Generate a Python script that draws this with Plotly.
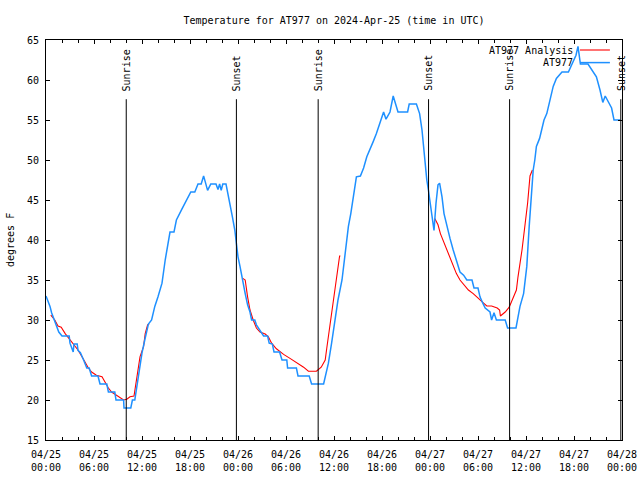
import pandas as pd
import plotly.graph_objects as go

START = pd.Timestamp("2024-04-25 00:00")

# Observed AT977 temperatures (hours since 04/25 00:00 UTC, deg F)
obs_hours = [0.0, 0.5, 0.7, 0.9, 1.3, 1.6, 2.0, 2.9, 3.0, 3.2, 3.4, 3.5, 3.9, 4.0, 4.3, 4.7, 5.1, 5.4,
             5.7, 6.5, 6.75, 7.6, 7.8, 8.6, 8.75, 9.7, 9.75, 10.6, 10.8, 11.1, 11.3, 11.75, 12.0, 12.4,
             12.8, 13.2, 13.6, 14.0, 14.5, 14.9, 15.3, 15.5, 16.0, 16.3, 17.0, 17.6, 18.1, 18.6, 19.0,
             19.4, 19.7, 19.9, 20.2, 20.6, 21.25, 21.5, 21.7, 21.9, 22.1, 22.5, 22.8, 23.0, 23.3, 23.6,
             23.8, 24.0, 24.25, 24.5, 24.7, 24.9, 25.2, 25.5, 25.7, 26.1, 26.3, 26.75, 27.2, 27.7, 27.9,
             28.3, 28.5, 29.2, 29.5, 30.1, 30.2, 31.3, 31.5, 32.9, 33.2, 34.7, 34.9, 35.3, 35.7, 36.1,
             36.5, 37.0, 37.4, 37.8, 38.1, 38.4, 38.8, 39.3, 39.7, 40.1, 40.5, 40.9, 41.3, 41.75, 42.2,
             42.5, 43.0, 43.4, 43.7, 44.0, 45.2, 45.4, 46.3, 46.7, 47.0, 47.2, 47.4, 47.6, 47.8, 48.0,
             48.3, 48.5, 48.75, 49.0, 49.2, 49.5, 49.75, 50.1, 50.5, 50.9, 51.3, 51.75, 52.2, 52.6,
             53.25, 53.5, 54.0, 54.25, 54.6, 54.9, 55.5, 55.7, 56.0, 56.3, 57.4, 57.7, 58.75, 59.0,
             59.25, 59.7, 60.1, 60.4, 60.7, 60.9, 61.1, 61.3, 61.7, 62.0, 62.25, 62.6, 63.0, 63.4,
             63.8, 64.5, 65.3, 65.8, 66.25, 66.5, 66.8, 67.75, 68.4, 68.8, 69.25, 69.6, 69.9, 70.3,
             70.7, 71.0, 71.8]
obs_temps = [33, 31.7, 30.9, 30.4, 29.2, 28.5, 28, 28, 27.1, 26.6, 26, 27, 27, 26.2, 25.9, 25, 24, 24,
             23, 23, 22, 22, 21, 21, 20, 20, 19, 19, 20, 20, 21.25, 23.75, 25.9, 27.75,
             29.5, 30, 31.7, 32.9, 34.6, 37.5, 40, 41, 41, 42.5, 43.9, 45, 46, 46, 47,
             47, 48, 47.3, 46.2, 47, 47, 46.3, 47, 46.2, 47, 47, 45.6, 44.6, 42.9, 41.25,
             39.6, 37.9, 36.7, 35.2, 34.4, 33.3, 31.9, 31.0, 30, 30, 29.4, 28.7, 28, 28, 27.1,
             27, 26, 26, 25, 25, 24, 24, 23, 23, 22, 22, 23, 24.6, 27.1, 29.6,
             32.5, 35, 38.75, 41.7, 43.3, 45.4, 47.9, 48, 49, 50.4, 51.25, 52.3, 53.3, 54.8, 56,
             55.1, 56, 58, 57, 56, 56, 57, 57, 55.8, 53.75, 51.7, 49.2, 47.5, 46.25, 44.6,
             42.5, 41.2, 44.6, 46.9, 47.1, 45.4, 43.3, 41.7, 40.2, 38.75, 37.3, 36, 35.6, 35,
             35, 34, 34, 32.9, 32.1, 31.5, 31, 30, 30.9, 30, 30, 29, 29, 30.4,
             31.7, 33.3, 36.7, 41.7, 45.8, 48.75, 50, 51.7, 52.7, 54, 55, 55.8, 57.5, 59.2,
             60.2, 61, 61, 62.2, 63.1, 64.2, 62, 62, 61, 60.4, 58.75, 57.2, 58, 57.3,
             56.5, 55, 55]

# Analysis segments
ana1_hours = [0.6, 1.1, 1.5, 1.9, 2.4, 2.8, 3.2, 3.6, 4.0, 4.5, 4.9, 5.3, 5.7, 6.3, 7.0, 7.4, 7.8, 8.2,
              8.8, 9.25, 9.7, 10.1, 10.5, 11.0, 11.25, 11.5, 11.75, 12.2, 12.4, 12.7, 12.9]
ana1_temps = [30.6, 30, 29.25, 29.1, 28.3, 27.8, 27.2, 26.7, 26.25, 25.4, 24.7, 24.0, 23.5, 23.1, 22.9,
              22.1, 21.5, 21.0, 20.6, 20.3, 20, 20.1, 20.4, 20.5, 22.1, 23.75, 25.4, 26.7, 28.3, 29.4, 29.5]
ana2_hours = [24.6, 24.9, 25.2, 25.5, 25.9, 26.3, 26.75, 27.4, 27.8, 28.2, 28.8, 29.7, 30.5, 31.3, 32.2,
              32.8, 33.8, 34.4, 34.9, 35.1, 35.4, 35.7, 36.0, 36.3, 36.7, 36.8]
ana2_temps = [35.2, 35, 32.9, 31.25, 30, 29, 28.5, 28.25, 27.9, 27.1, 26.4, 25.7, 25.2, 24.7, 24.1,
              23.6, 23.6, 24.1, 25, 26.5, 28.75, 30.8, 32.9, 35.4, 38, 38]
ana3_hours = [48.6, 49.0, 49.3, 49.7, 50.1, 50.5, 50.9, 51.3, 51.75, 52.2, 52.8, 53.4, 54.0, 54.7, 55.1,
              55.7, 56.4, 56.7, 56.8, 57.4, 57.9, 58.4, 58.8, 59.0, 59.5, 59.9, 60.2, 60.5, 60.8]
ana3_temps = [42.7, 41.9, 40.8, 39.8, 39, 37.9, 36.9, 35.8, 35, 34.4, 33.75, 33.3, 32.7, 32.1, 31.75,
              31.75, 31.5, 31.25, 30.5, 31, 31.6, 32.7, 33.75, 35.4, 38.75, 42.1, 44.6, 48, 48.75]

sun_events = ["Sunrise", "Sunset", "Sunrise", "Sunset", "Sunrise", "Sunset"]
sun_hours = [10.03, 23.8, 34.02, 47.82, 57.95, 71.85]

FONT = "DejaVu Sans Mono"
BLUE = "#1e90ff"
RED = "#ff0000"


def to_time(hours):
    return START + pd.to_timedelta(pd.Series(hours, dtype=float), unit="h")


fig = go.Figure()
for h, t in [(ana1_hours, ana1_temps), (ana2_hours, ana2_temps), (ana3_hours, ana3_temps)]:
    fig.add_trace(go.Scatter(x=to_time(h), y=t, mode="lines", name="AT977 Analysis",
                             line=dict(color=RED, width=1.1), showlegend=False))
fig.add_trace(go.Scatter(x=to_time(obs_hours), y=obs_temps, mode="lines", name="AT977",
                         line=dict(color=BLUE, width=1.5), showlegend=False))

sun_times = to_time(sun_hours)
for name, t in zip(sun_events, sun_times):
    fig.add_shape(type="line", xref="x", yref="y", x0=t, x1=t, y0=15, y1=57.6,
                  line=dict(color="black", width=1))
    fig.add_annotation(x=t, y=57.6, xref="x", yref="y", text=name, textangle=-90,
                       showarrow=False, xanchor="center", yanchor="bottom", yshift=6,
                       font=dict(family=FONT, size=10, color="black"))

# gnuplot-style key (text right, sample line right of it)
legend_items = [("AT977 Analysis", RED, 0.975), ("AT977", BLUE, 0.9435)]
for label, col, yy in legend_items:
    fig.add_annotation(x=0.9184, y=yy, xref="paper", yref="paper", text=label, showarrow=False,
                       xanchor="right", yanchor="middle", font=dict(family=FONT, size=10, color="black"))
    fig.add_shape(type="line", xref="paper", yref="paper", x0=0.927, x1=0.979, y0=yy, y1=yy,
                  line=dict(color=col, width=1.5 if col == BLUE else 1.1))

fig.add_annotation(x=0, y=0.5, xref="paper", yref="paper", text="degrees F", textangle=-90,
                   showarrow=False, xshift=-36, xanchor="center", yanchor="middle",
                   font=dict(family=FONT, size=10, color="black"))

fig.update_layout(
    width=640, height=480,
    margin=dict(l=46, r=18, t=40, b=40),
    paper_bgcolor="white", plot_bgcolor="white",
    title=dict(text="Temperature for AT977 on 2024-Apr-25 (time in UTC)", x=0.5, xref="paper",
               y=1 - 20 / 480, yref="container", xanchor="center", yanchor="middle",
               font=dict(family=FONT, size=10, color="black")),
    font=dict(family=FONT, size=10, color="black"),
)
fig.update_xaxes(
    type="date", range=[START, START + pd.Timedelta(hours=72)], automargin=False,
    tick0=START, dtick=6 * 3600 * 1000, tickformat="%m/%d<br>%H:%M",
    ticks="inside", ticklen=4, tickcolor="black", showline=True, linecolor="black", linewidth=1,
    mirror="ticks", showgrid=False, zeroline=False, ticklabelstandoff=5,
    minor=dict(dtick=2 * 3600 * 1000, ticks="inside", ticklen=3, tickcolor="black", showgrid=False),
    tickfont=dict(family=FONT, size=10, color="black"),
)
fig.update_yaxes(
    range=[15, 65], dtick=5, ticks="inside", ticklen=4, tickcolor="black", automargin=False,
    showline=True, linecolor="black", linewidth=1, mirror="ticks", ticklabelstandoff=4,
    showgrid=False, zeroline=False, tickfont=dict(family=FONT, size=10, color="black"),
)

fig.write_html("out.html", config={"displayModeBar": False},
               post_script="document.body.style.margin='0px';document.body.style.overflow='hidden';")
